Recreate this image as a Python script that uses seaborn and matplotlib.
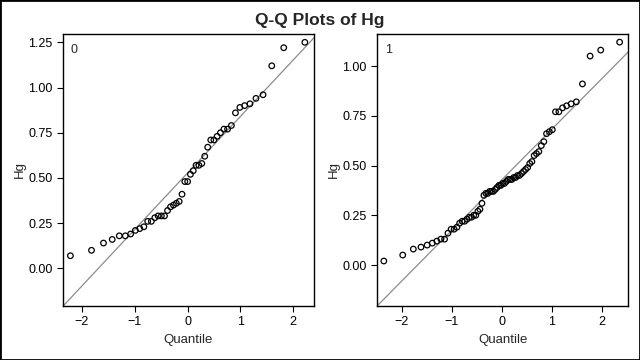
import matplotlib
matplotlib.use("Agg")
import matplotlib.pyplot as plt
import matplotlib.patches as patches
import numpy as np
import pandas as pd
import seaborn as sns
from statistics import NormalDist

# Hg values (sorted) for each group
hg_group0 = [0.07, 0.10, 0.14, 0.16, 0.18, 0.18, 0.19, 0.21, 0.22, 0.23,
             0.26, 0.26, 0.28, 0.29, 0.29, 0.29, 0.32, 0.34, 0.35, 0.36,
             0.37, 0.41, 0.48, 0.48, 0.52, 0.54, 0.57, 0.57, 0.58, 0.62,
             0.67, 0.71, 0.71, 0.73, 0.75, 0.77, 0.77, 0.79, 0.86, 0.89,
             0.90, 0.91, 0.94, 0.96, 1.12, 1.22, 1.25]
hg_group1 = [0.02, 0.05, 0.08, 0.09, 0.10, 0.11, 0.12, 0.13, 0.13, 0.16,
             0.18, 0.18, 0.19, 0.21, 0.22, 0.22, 0.23, 0.24, 0.24, 0.25,
             0.25, 0.27, 0.28, 0.31, 0.35, 0.36, 0.36, 0.37, 0.37, 0.37,
             0.38, 0.39, 0.40, 0.40, 0.41, 0.41, 0.42, 0.43, 0.43, 0.43,
             0.44, 0.44, 0.45, 0.45, 0.46, 0.47, 0.48, 0.49, 0.51, 0.52,
             0.55, 0.56, 0.57, 0.60, 0.62, 0.66, 0.67, 0.68, 0.77, 0.77,
             0.79, 0.80, 0.81, 0.82, 0.91, 1.05, 1.08, 1.12]
group_names = ["0", "1"]
y_ticks = [[0.0, 0.25, 0.5, 0.75, 1.0, 1.25], [0.0, 0.25, 0.5, 0.75, 1.0]]
x_ticks = [-2, -1, 0, 1, 2]


def qq_frame(values):
    # normal quantiles (Blom) for sorted values, like SAS QQPLOT
    v = np.sort(np.array(values))
    n = len(v)
    q = [NormalDist().inv_cdf((i - 0.375) / (n + 0.25)) for i in range(1, n + 1)]
    return pd.DataFrame({"Quantile": q, "Hg": v})


sns.set_style("ticks")
plt.rcParams["font.family"] = ["Liberation Sans", "DejaVu Sans"]
plt.rcParams["font.size"] = 9

fig = plt.figure(figsize=(6.4, 3.6), dpi=100)
fig.patches.append(patches.Rectangle((0, 0), 1, 1, transform=fig.transFigure,
                                     fill=False, edgecolor="black", linewidth=2))
fig.text(0.5, 0.943, "Q-Q Plots of Hg", ha="center", va="center",
         fontsize=12.5, fontweight="bold")

axes = [fig.add_axes([0.0984, 0.15, 0.392, 0.7556]),
        fig.add_axes([0.5895, 0.15, 0.392, 0.7556])]
xlims = [(-2.36, 2.39), (-2.49, 2.53)]
ylims = [(-0.208, 1.296), (-0.206, 1.161)]

for k, (ax, vals) in enumerate(zip(axes, [hg_group0, hg_group1])):
    df = qq_frame(vals)
    mu = np.mean(vals)
    sd = np.std(vals, ddof=1)
    ax.axline((0, mu), slope=sd, color="#8c8c8c", linewidth=0.9, zorder=1)
    sns.scatterplot(data=df, x="Quantile", y="Hg", ax=ax, marker="o",
                    facecolors="none", edgecolor="black", linewidth=0.9,
                    s=16, zorder=2)
    ax.set_xlim(xlims[k])
    ax.set_ylim(ylims[k])
    ax.set_xticks(x_ticks)
    ax.set_yticks(y_ticks[k])
    ax.set_yticklabels([f"{t:.2f}" for t in y_ticks[k]])
    ax.set_xlabel("Quantile", fontsize=9.5)
    ax.set_ylabel("Hg", fontsize=9.5, labelpad=2)
    ax.text(0.03, 0.965, group_names[k], transform=ax.transAxes,
            ha="left", va="top", fontsize=9)
    for sp in ax.spines.values():
        sp.set_visible(True)
        sp.set_linewidth(1.0)
        sp.set_color("black")
    ax.tick_params(direction="out", length=4, width=0.8, colors="black",
                   labelsize=9)

fig.savefig("out.png", dpi=100)
